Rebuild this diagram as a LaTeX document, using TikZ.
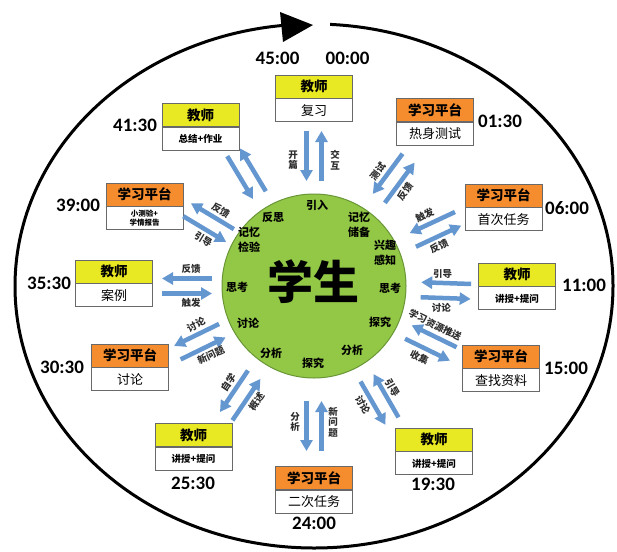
\documentclass[tikz,border=0pt]{standalone}
\usepackage{fontspec}
\setmainfont{Noto Sans CJK SC}
\newfontfamily\timefont{Carlito}
\usetikzlibrary{arrows.meta}
\definecolor{hdyellow}{RGB}{232,232,35}
\definecolor{hdorange}{RGB}{245,140,45}
\definecolor{boxgray}{RGB}{105,105,105}
\definecolor{stgreen}{RGB}{146,200,70}
\definecolor{stgreendark}{RGB}{105,150,55}
\definecolor{arrowblue}{RGB}{100,150,208}
\definecolor{labgray}{RGB}{45,45,45}
\tikzset{
  hdr/.style={draw=boxgray, line width=0.9pt, minimum width=77pt, minimum height=23pt, inner sep=0pt, font=\bfseries\fontsize{13.5}{14}\selectfont},
  thdr/.style={hdr, fill=hdyellow},
  phdr/.style={hdr, fill=hdorange},
  bodybox/.style={draw=boxgray, line width=0.9pt, fill=white, minimum width=77pt, minimum height=23pt, inner sep=0pt, anchor=north, align=center, font=\fontsize{13}{14}\selectfont},
  smallbody/.style={font=\bfseries\fontsize{9.5}{10}\selectfont},
  tinybody/.style={font=\bfseries\fontsize{7.5}{9}\selectfont},
  timelab/.style={font=\timefont\bfseries\fontsize{19}{20}\selectfont, inner sep=0pt},
  barrow/.style={draw=arrowblue, line width=4.5pt, -{Triangle[length=11pt,width=12pt]}},
  alab/.style={font=\bfseries\fontsize{9.5}{10.5}\selectfont, text=labgray, inner sep=1pt, align=center},
  inlab/.style={font=\bfseries\fontsize{11}{15}\selectfont, align=center, inner sep=0pt},
}
\begin{document}
\begin{tikzpicture}[x=1pt,y=-1pt]
\useasboundingbox (0,0) rectangle (617,551);
\fill[white] (0,0) rectangle (617,551);

% outer cycle
\coordinate (ec) at (314,286);
\draw[line width=3pt] ([shift={(-86.9:299 and 262)}]ec) arc[start angle=-86.9, end angle=264, x radius=299, y radius=262];
\fill (280,12) -- (313,25) -- (283,42) -- cycle;

% student circle
\node[circle, fill=stgreen, draw=stgreendark, line width=1pt, minimum size=184pt, inner sep=0pt] (stu) at (314,286) {};
\node[font=\bfseries\fontsize{46}{46}\selectfont, inner sep=0pt] (xs) at (313,282) {学生};
\node[inlab] (i1) at (317,205) {引入};
\node[inlab] (i2) at (273,217) {反思};
\node[inlab] (i3) at (249,240) {记忆\\检验};
\node[inlab] (i4) at (237,287) {思考};
\node[inlab] (i5) at (248,323) {讨论};
\node[inlab] (i6) at (271,353) {分析};
\node[inlab] (i7) at (313,363) {探究};
\node[inlab] (i8) at (352,350) {分析};
\node[inlab] (i9) at (380,322) {探究};
\node[inlab] (i10) at (390,288) {思考};
\node[inlab] (i11) at (385,253) {兴趣\\感知};
\node[inlab] (i12) at (359,225) {记忆\\储备};

% boxes
\node[thdr] (h1) at (314,86.5) {教师};
\node[bodybox] (b1) at (h1.south) {复习};
\node[phdr] (h2) at (435,110) {学习平台};
\node[bodybox] (b2) at (h2.south) {热身测试};
\node[phdr] (h3) at (503.5,195.5) {学习平台};
\node[bodybox] (b3) at (h3.south) {首次任务};
\node[thdr] (h4) at (517,274.5) {教师};
\node[bodybox, smallbody] (b4) at (h4.south) {讲授+提问};
\node[phdr] (h5) at (501,356.5) {学习平台};
\node[bodybox] (b5) at (h5.south) {查找资料};
\node[thdr] (h6) at (434,439.5) {教师};
\node[bodybox, smallbody] (b6) at (h6.south) {讲授+提问};
\node[phdr] (h7) at (314,478) {学习平台};
\node[bodybox] (b7) at (h7.south) {二次任务};
\node[thdr] (h8) at (193.5,435) {教师};
\node[bodybox, smallbody] (b8) at (h8.south) {讲授+提问};
\node[phdr] (h9) at (130,355.5) {学习平台};
\node[bodybox] (b9) at (h9.south) {讨论};
\node[thdr] (h10) at (114,271.5) {教师};
\node[bodybox] (b10) at (h10.south) {案例};
\node[phdr] (h11) at (144.5,194.5) {学习平台};
\node[bodybox, tinybody] (b11) at (h11.south) {小测验+\\学情报告};
\node[thdr] (h12) at (200.5,115) {教师};
\node[bodybox, smallbody] (b12) at (h12.south) {总结+作业};

% times
\node[timelab] (t0) at (277.5,58) {45:00};
\node[timelab] (t1) at (347.5,58) {00:00};
\node[timelab] (t2) at (500,121) {01:30};
\node[timelab] (t3) at (567,208) {06:00};
\node[timelab] (t4) at (584,285) {11:00};
\node[timelab] (t5) at (566,368) {15:00};
\node[timelab] (t6) at (433,484) {19:30};
\node[timelab] (t7) at (314,523) {24:00};
\node[timelab] (t8) at (193,483) {25:30};
\node[timelab] (t9) at (62,367) {30:30};
\node[timelab] (t10) at (49,283) {35:30};
\node[timelab] (t11) at (78,205) {39:00};
\node[timelab] (t12) at (135,125) {41:30};

% arrow pairs
\foreach \i/\th/\r/\ccw/\cw/\ph/\lo in {
 1/90/130/{开\\篇}/{交\\互}/0/21,
 2/53.5/134/测试/反馈/53.5/17,
 3/25/134/触发/反馈/25/17,
 4/-2/132/引导/讨论/0/17,
 5/-26/130/学习资源推送/收集/-26/18,
 6/-60/131/引导/讨论/-60/17,
 7/-90/140/{新\\问\\题}/{分\\析}/0/19,
 8/-124/132/概述/自学/56/17,
 9/-154/127/新问题/讨论/26/17,
 10/180/127/触发/反馈/0/17,
 11/149/123/引导/反馈/-31/17,
 12/121/131/{}/{}/0/17}{
 \begin{scope}[shift={(314,286)}, rotate=\th]
  \coordinate (ia\i) at ({\r+25},-7.5);
  \coordinate (ib\i) at ({\r-25},-7.5);
  \coordinate (oa\i) at ({\r-25},7.5);
  \coordinate (ob\i) at ({\r+25},7.5);
  \draw[barrow] (ia\i) -- (ib\i);
  \draw[barrow] (oa\i) -- (ob\i);
  \node[alab, rotate=\ph] (lc\i) at ({\r-4},-\lo) {\ccw};
  \node[alab, rotate=\ph] (lw\i) at ({\r-4},\lo) {\cw};
 \end{scope}
}
\end{tikzpicture}
\end{document}
